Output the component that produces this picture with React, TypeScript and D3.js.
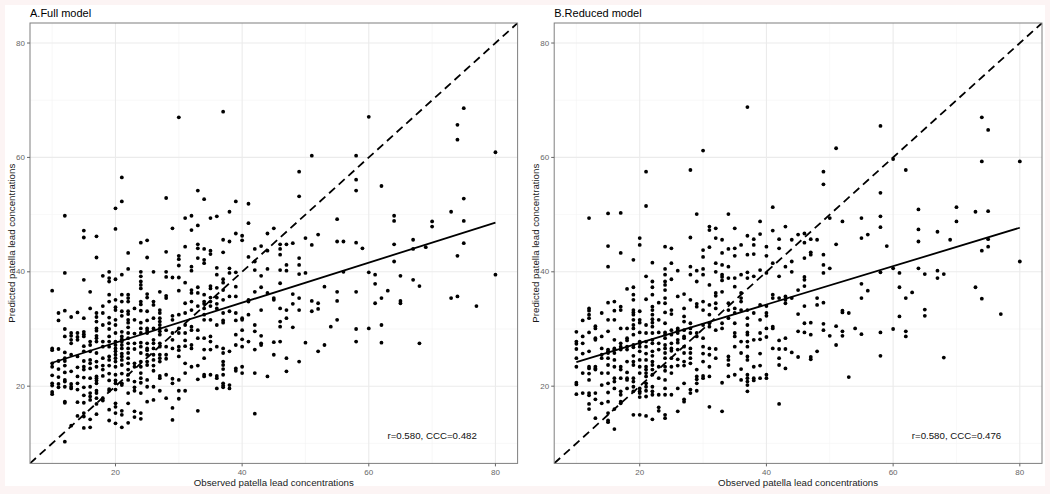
import React from "react";
import * as d3 from "d3";

const fullModelPoints: [number, number[]][] = [
  [10, [36.7, 26.6, 26.3, 24.0, 23.4, 21.9, 20.5, 20.1, 19.0, 18.6]],
  [11, [32.8, 31.5, 26.5, 24.4, 23.0, 21.6, 20.4, 19.8]],
  [12, [49.8, 39.8, 33.2, 30.0, 28.7, 25.9, 24.9, 24.4, 23.6, 22.4, 21.1, 20.8, 19.9, 17.3, 17.1, 10.3]],
  [13, [32.1, 29.3, 28.8, 28.1, 27.5, 25.5, 22.6, 20.4, 19.9, 19.6, 13.1]],
  [14, [32.9, 29.3, 28.6, 28.1, 25.2, 23.3, 21.7, 20.5, 19.4, 17.2, 14.8]],
  [15, [47.2, 46.0, 38.6, 31.9, 29.5, 29.1, 28.7, 27.0, 26.1, 24.4, 23.4, 22.9, 21.5, 19.8, 18.4, 17.1, 15.3, 14.7, 12.7]],
  [16, [36.5, 33.6, 27.8, 27.2, 26.1, 24.6, 24.0, 23.1, 21.4, 19.9, 18.8, 18.2, 17.6, 14.2, 12.8]],
  [17, [46.2, 42.5, 32.8, 32.1, 31.3, 30.1, 29.7, 28.8, 28.4, 27.8, 25.8, 24.3, 23.4, 21.7, 21.4, 21.0, 20.5, 19.2, 18.8, 17.9, 16.9, 15.1]],
  [18, [39.3, 34.0, 32.8, 30.7, 27.8, 26.9, 24.9, 23.6, 22.9, 21.8, 17.9, 17.5]],
  [19, [40.0, 38.9, 38.3, 36.0, 34.8, 32.0, 31.0, 30.0, 28.7, 27.8, 26.9, 25.2, 24.6, 23.6, 22.2, 21.0, 19.5, 19.2, 15.9, 14.0]],
  [20, [51.1, 47.5, 38.7, 35.1, 33.8, 33.3, 31.6, 30.7, 29.3, 27.8, 27.2, 26.6, 26.1, 25.5, 24.9, 24.3, 23.4, 22.0, 21.0, 20.5, 19.4, 17.0, 16.4, 15.3, 13.5]],
  [21, [56.5, 52.3, 39.5, 36.0, 34.8, 33.1, 32.3, 29.5, 28.7, 28.2, 27.8, 27.2, 26.6, 25.7, 25.2, 24.6, 23.7, 22.2, 20.5, 20.2, 15.7, 15.0, 12.8]],
  [22, [43.3, 40.5, 36.0, 35.4, 34.8, 33.1, 32.6, 31.6, 31.1, 30.3, 29.3, 28.4, 27.5, 26.6, 25.8, 24.9, 24.0, 22.9, 22.0, 21.1, 18.8, 17.0, 13.6]],
  [23, [33.6, 31.6, 29.2, 27.5, 26.5, 24.0, 23.4, 20.8, 19.8, 19.2, 15.6, 14.6]],
  [24, [45.1, 40.0, 39.2, 38.3, 37.7, 37.1, 34.8, 34.3, 33.2, 31.1, 30.1, 29.3, 27.6, 26.9, 25.8, 24.3, 23.4, 22.3, 21.4, 20.6, 18.8, 15.3, 14.3]],
  [25, [45.5, 42.5, 36.1, 35.5, 33.1, 31.5, 30.1, 29.7, 29.3, 27.5, 26.6, 26.3, 25.5, 24.3, 23.7, 21.1, 19.9, 17.3]],
  [26, [40.0, 34.8, 34.2, 31.9, 30.1, 28.1, 27.5, 26.6, 25.5, 24.6, 23.6, 22.7, 19.9, 17.6]],
  [27, [36.5, 33.3, 32.8, 31.9, 31.3, 30.7, 30.1, 29.6, 29.0, 27.5, 26.9, 25.5, 24.9, 24.3, 21.8, 21.4, 19.2]],
  [28, [52.9, 43.5, 40.0, 39.1, 35.8, 35.4, 29.8, 26.9, 25.5, 24.8, 22.0, 17.9]],
  [29, [47.6, 39.0, 32.3, 31.6, 29.3, 28.1, 26.6, 21.3, 20.5, 16.2, 14.1]],
  [30, [67.0, 42.8, 42.2, 41.1, 39.0, 36.7, 32.5, 30.1, 29.3, 26.9, 26.3, 25.2, 21.1, 19.2, 17.8]],
  [31, [49.4, 44.4, 38.1, 34.5, 32.8, 30.7, 29.3, 28.0, 27.0, 24.0, 22.3, 19.2]],
  [32, [49.8, 47.3, 40.9, 40.2, 36.8, 36.3, 34.8, 33.3, 30.4, 29.8, 27.2, 26.6, 23.4]],
  [33, [54.2, 48.1, 44.8, 44.1, 42.4, 37.3, 36.3, 34.0, 29.8, 28.4, 23.6, 21.2, 15.7]],
  [34, [52.7, 44.0, 42.1, 41.5, 36.0, 34.8, 34.4, 33.6, 32.5, 31.6, 28.4, 26.4, 24.9, 22.0, 21.7]],
  [35, [49.4, 43.7, 43.1, 37.5, 37.1, 35.5, 34.8, 34.0, 31.6, 28.7, 27.8, 26.4, 22.0]],
  [36, [49.7, 40.7, 39.5, 37.2, 35.5, 34.4, 33.6, 30.7, 26.9, 21.8, 21.4, 19.6]],
  [37, [68.0, 45.6, 43.4, 38.7, 38.1, 36.8, 35.1, 32.8, 31.5, 31.1, 26.6, 25.8, 24.3, 23.7, 23.0, 22.0, 20.5, 20.1, 19.8]],
  [38, [50.5, 45.3, 40.6, 39.8, 35.7, 33.1, 26.1, 20.2, 19.6]],
  [39, [52.3, 46.7, 39.9, 37.4, 35.7, 32.8, 31.5, 29.0, 27.2, 23.1, 22.7]],
  [40, [46.3, 45.5, 31.9, 31.6, 29.8, 28.2, 26.9, 23.4, 22.3]],
  [41, [51.9, 48.5, 42.6, 35.1, 34.8, 32.5, 27.8]],
  [42, [44.0, 41.8, 40.3, 36.5, 30.7, 29.6, 26.4, 22.3, 15.2]],
  [43, [44.5, 39.3, 37.3, 33.3, 28.8, 27.5, 27.2]],
  [44, [46.7, 43.7, 40.5, 36.3, 21.7]],
  [45, [47.6, 35.4, 35.1, 27.7, 25.5]],
  [46, [44.8, 44.0, 43.0, 40.3, 38.0, 33.6, 31.3, 30.4, 27.8]],
  [47, [44.8, 41.2, 40.2, 33.3, 31.9, 24.9, 22.6]],
  [48, [45.0, 36.1, 34.4, 30.3]],
  [49, [57.5, 53.2, 42.4, 41.2, 39.6, 35.4, 33.3, 24.3]],
  [50, [45.9, 39.8, 27.6]],
  [51, [60.3, 44.7, 34.9, 33.1]],
  [52, [46.5, 34.5, 33.5, 26.1]],
  [53, [37.4, 27.2]],
  [54, [30.4]],
  [55, [49.2, 45.3, 36.5, 34.9, 31.6]],
  [56, [45.3, 40.0]],
  [58, [60.3, 56.1, 54.2, 45.1, 36.5, 30.0, 27.8]],
  [59, [44.1]],
  [60, [67.1, 39.9, 30.1]],
  [61, [39.5, 37.9, 34.5]],
  [62, [55.0, 35.4, 30.7, 27.6]],
  [63, [36.7]],
  [64, [49.8, 48.9, 44.8, 41.8]],
  [65, [39.3, 34.9, 34.5]],
  [67, [45.6, 44.0, 38.6]],
  [68, [37.5, 27.5]],
  [69, [44.3]],
  [70, [48.8, 47.9]],
  [73, [50.5, 35.4]],
  [74, [65.7, 63.1, 42.8, 35.7]],
  [75, [68.6, 52.8, 48.9, 45.0]],
  [77, [34.0]],
  [80, [60.9, 39.5]],
];

// Panel B (reduced model)
const reducedModelPoints: [number, number[]][] = [
  [10, [29.5, 27.8, 27.4, 26.5, 24.9, 23.4, 20.6, 20.3, 18.6]],
  [11, [31.5, 28.7, 27.5, 25.7, 22.3, 18.8]],
  [12, [49.4, 33.6, 33.2, 32.5, 31.9, 29.4, 26.1, 23.4, 23.1, 22.2, 21.1, 18.8, 18.4, 16.9, 16.0]],
  [13, [30.5, 30.1, 28.4, 28.1, 23.4, 23.1, 22.9, 18.8, 17.7, 14.4]],
  [14, [32.8, 28.7, 26.6, 25.5, 24.9, 22.3, 20.2, 17.0]],
  [15, [50.2, 44.5, 40.9, 34.6, 31.6, 29.6, 26.4, 26.1, 25.8, 24.9, 23.7, 22.3, 20.5, 18.9, 17.3, 15.3, 14.0, 13.7]],
  [16, [34.8, 33.2, 31.6, 28.1, 26.6, 26.4, 25.8, 24.6, 23.4, 21.4, 20.8, 19.6, 16.0, 12.5]],
  [17, [50.3, 43.3, 33.9, 33.3, 30.1, 27.5, 26.9, 26.4, 23.4, 22.9, 21.4, 19.1, 18.5, 17.3, 17.0]],
  [18, [37.0, 30.1, 28.4, 28.0, 26.9, 26.4, 24.3, 22.4, 21.4, 21.1, 19.6]],
  [19, [42.1, 37.3, 36.0, 35.1, 33.3, 32.9, 32.5, 31.6, 30.7, 30.1, 29.0, 27.2, 26.8, 25.3, 24.3, 23.7, 21.4, 20.8, 19.9, 19.1, 15.0]],
  [20, [45.9, 44.7, 33.1, 31.6, 31.1, 29.4, 27.8, 27.5, 26.9, 26.1, 24.6, 23.4, 22.3, 19.6, 19.1, 18.8, 18.1, 15.0]],
  [21, [57.5, 51.5, 39.2, 35.2, 30.7, 29.3, 27.8, 26.9, 25.7, 24.6, 23.4, 22.9, 22.3, 21.7, 20.5, 19.9, 19.2, 18.2, 14.8]],
  [22, [41.6, 38.3, 37.3, 36.0, 33.9, 33.3, 32.5, 31.7, 31.1, 30.4, 29.3, 28.1, 27.5, 26.1, 25.3, 24.3, 23.7, 22.9, 22.0, 19.9, 19.1, 18.5, 14.2]],
  [23, [34.6, 31.6, 29.4, 27.5, 26.4, 23.4, 21.4, 18.5, 16.3, 15.7]],
  [24, [44.4, 40.5, 39.5, 38.3, 37.7, 36.8, 35.4, 34.5, 32.9, 31.0, 29.4, 29.0, 28.4, 27.2, 26.6, 25.8, 24.9, 23.4, 22.7, 21.1, 19.6, 18.5, 15.0, 14.4]],
  [25, [44.1, 41.5, 38.7, 33.3, 32.6, 29.8, 29.0, 27.5, 26.6, 26.2, 24.9, 23.4, 22.3, 18.5]],
  [26, [40.2, 35.7, 30.1, 29.8, 29.3, 28.1, 27.6, 26.4, 24.7, 23.6, 19.6, 15.6]],
  [27, [36.1, 33.6, 32.2, 31.3, 29.8, 28.7, 28.4, 26.9, 25.8, 24.3, 23.6, 20.5, 17.7, 17.3]],
  [28, [57.8, 46.0, 40.9, 39.5, 35.1, 31.0, 30.1, 29.3, 26.6, 25.8, 24.9, 24.0, 19.4, 18.8]],
  [29, [50.1, 40.2, 38.3, 34.4, 33.9, 29.3, 28.7, 22.9, 21.7, 21.2, 20.5, 19.2]],
  [30, [61.2, 43.8, 42.6, 40.5, 39.5, 34.8, 33.3, 30.7, 28.4, 26.9, 25.7, 24.3, 21.8, 21.4]],
  [31, [47.9, 47.3, 44.3, 37.7, 34.2, 32.5, 31.0, 30.4, 26.6, 25.5, 23.4, 21.7, 16.4]],
  [32, [47.6, 45.9, 41.5, 40.0, 36.3, 35.8, 34.5, 33.6, 29.8, 26.5, 24.9]],
  [33, [45.6, 43.3, 41.2, 39.5, 39.1, 38.5, 36.5, 31.0, 30.1, 20.6, 15.6]],
  [34, [50.1, 44.0, 40.9, 38.9, 34.5, 33.3, 31.9, 25.2, 24.6, 23.7, 21.7]],
  [35, [47.6, 44.1, 42.8, 38.9, 37.4, 33.6, 32.8, 31.0, 29.3, 28.7, 26.9, 22.0]],
  [36, [44.7, 39.5, 36.3, 35.4, 34.8, 33.3, 27.8, 25.8, 23.0, 21.1]],
  [37, [68.8, 46.3, 43.0, 39.9, 38.9, 33.3, 31.9, 30.7, 29.4, 29.0, 27.8, 26.9, 25.2, 24.6, 22.0, 21.4, 20.8, 20.2, 19.1]],
  [38, [45.7, 44.7, 43.1, 39.2, 32.8, 28.1, 23.4, 21.4, 21.0]],
  [39, [48.8, 46.6, 40.3, 34.2, 31.6, 29.3, 28.2, 25.7, 23.6, 21.4]],
  [40, [44.4, 42.8, 39.8, 34.0, 32.8, 32.3, 30.1, 28.6, 22.0, 21.4]],
  [41, [51.3, 47.2, 41.5, 36.0, 35.4, 30.4, 30.1, 26.6]],
  [42, [45.7, 44.1, 39.2, 35.4, 28.0, 26.5, 24.9, 23.7, 16.9]],
  [43, [47.9, 40.9, 35.7, 35.1, 34.5, 28.4, 26.5, 23.1]],
  [44, [45.6, 41.8, 40.0, 35.4, 25.9]],
  [45, [46.5, 36.8, 32.6, 29.6, 25.1]],
  [46, [46.7, 45.1, 42.4, 39.1, 38.6, 37.5, 34.0, 31.0, 29.4]],
  [47, [45.7, 43.4, 43.0, 31.1, 29.0, 25.1, 24.7]],
  [48, [45.6, 35.4, 34.2, 26.1]],
  [49, [57.5, 55.3, 43.0, 41.2, 39.8, 34.6, 30.9, 29.8]],
  [50, [49.4, 40.6, 28.8]],
  [51, [61.6, 44.8, 30.5, 27.2]],
  [52, [48.8, 33.2, 32.9, 29.6, 28.8]],
  [53, [32.8, 21.6]],
  [54, [30.1]],
  [55, [49.4, 45.9, 37.9, 35.4, 29.1]],
  [56, [46.5, 36.7]],
  [58, [65.5, 53.8, 49.7, 47.8, 39.9, 29.4, 25.3]],
  [59, [44.5]],
  [60, [59.7, 40.6, 30.0]],
  [61, [39.8, 37.3, 32.2]],
  [62, [57.8, 35.4, 29.6, 28.7]],
  [63, [36.4]],
  [64, [50.9, 47.4, 45.3, 40.6]],
  [65, [39.6, 33.4, 32.3]],
  [67, [47.0, 40.2, 38.9]],
  [68, [39.6, 25.0]],
  [69, [45.6]],
  [70, [51.3, 48.8]],
  [73, [50.5, 37.3]],
  [74, [67.0, 59.3, 43.7, 35.3]],
  [75, [64.8, 50.6, 45.7, 44.4]],
  [77, [32.6]],
  [80, [59.3, 41.8]],
];

// Fitted regression lines (endpoints at observed 10 and 80)
const fitFull: [number, number][] = [[10, 24.1], [80, 48.6]];
const fitReduced: [number, number][] = [[10, 24.2], [80, 47.7]];

const panelTitles = ["A.Full model", "B.Reduced model"];
const statLabels = ["r=0.580, CCC=0.482", "r=0.580, CCC=0.476"];
const statPosition: [number, number] = [70, 11.3];
const majorTicks = [20, 40, 60, 80];
const minorTicks = [10, 30, 50, 70];
const axisDomain: [number, number] = [6.5, 83.5];
const xTitle = "Observed patella lead concentrations";
const yTitle = "Predicted patella lead concentrations";

const FONT = "'Liberation Sans', Arial, Helvetica, sans-serif";

type PanelProps = {
  left: number;
  right: number;
  title: string;
  label: string;
  cols: [number, number[]][];
  fit: [number, number][];
};

function Panel({ left, right, title, label, cols, fit }: PanelProps) {
  const top = 23;
  const bottom = 463.4;
  const x = d3.scaleLinear().domain(axisDomain).range([left, right]);
  const y = d3.scaleLinear().domain(axisDomain).range([bottom, top]);
  const pts = cols.flatMap(([ox, ys]) => ys.map((py) => [ox, py] as [number, number]));
  const line = d3.line<[number, number]>().x((d) => x(d[0])).y((d) => y(d[1]));
  const idLine: [number, number][] = [[axisDomain[0], axisDomain[0]], [axisDomain[1], axisDomain[1]]];
  const clipId = `clip-${Math.round(left)}`;
  return (
    <g>
      <defs>
        <clipPath id={clipId}>
          <rect x={left} y={top} width={right - left} height={bottom - top} />
        </clipPath>
      </defs>
      <rect x={left} y={top} width={right - left} height={bottom - top} fill="#ffffff" />
      {minorTicks.map((t) => (
        <g key={"mn" + t}>
          <line x1={x(t)} x2={x(t)} y1={top} y2={bottom} stroke="#f3f3f3" strokeWidth={0.6} />
          <line x1={left} x2={right} y1={y(t)} y2={y(t)} stroke="#f3f3f3" strokeWidth={0.6} />
        </g>
      ))}
      {majorTicks.map((t) => (
        <g key={"mj" + t}>
          <line x1={x(t)} x2={x(t)} y1={top} y2={bottom} stroke="#ebebeb" strokeWidth={1.1} />
          <line x1={left} x2={right} y1={y(t)} y2={y(t)} stroke="#ebebeb" strokeWidth={1.1} />
        </g>
      ))}
      <g clipPath={`url(#${clipId})`}>
        <path d={line(idLine) || ""} stroke="#000" strokeWidth={1.8} strokeDasharray="8 5" fill="none" />
        {pts.map((p, i) => (
          <circle key={i} cx={x(p[0])} cy={y(p[1])} r={1.9} fill="#000" />
        ))}
        <path d={line(fit) || ""} stroke="#000" strokeWidth={1.8} fill="none" />
      </g>
      <text
        x={x(statPosition[0])}
        y={y(statPosition[1])}
        textAnchor="middle"
        dominantBaseline="central"
        fontFamily={FONT}
        fontSize={9.7}
        fill="#111"
      >
        {label}
      </text>
      <rect x={left} y={top} width={right - left} height={bottom - top} fill="none" stroke="#7f7f7f" strokeWidth={1} />
      {majorTicks.map((t) => (
        <g key={"tk" + t}>
          <line x1={x(t)} x2={x(t)} y1={bottom} y2={bottom + 3} stroke="#666" strokeWidth={1} />
          <text x={x(t)} y={bottom + 11.8} textAnchor="middle" fontFamily={FONT} fontSize={8} fill="#666">
            {t}
          </text>
          <line x1={left - 3} x2={left} y1={y(t)} y2={y(t)} stroke="#666" strokeWidth={1} />
          <text x={left - 5} y={y(t)} textAnchor="end" dominantBaseline="central" fontFamily={FONT} fontSize={8} fill="#666">
            {t}
          </text>
        </g>
      ))}
      <text x={(left + right) / 2} y={486.2} textAnchor="middle" fontFamily={FONT} fontSize={9.7} fill="#1a1a1a">
        {xTitle}
      </text>
      <text
        transform={`translate(${left - 15.5},${(top + bottom) / 2}) rotate(-90)`}
        textAnchor="middle"
        fontFamily={FONT}
        fontSize={9.7}
        fill="#1a1a1a"
      >
        {yTitle}
      </text>
      <text x={left} y={16.5} fontFamily={FONT} fontSize={11} fill="#000">
        {title}
      </text>
    </g>
  );
}

export default function App() {
  return (
    <svg
      width={1050}
      height={494}
      style={{ position: "absolute", left: 0, top: 0, display: "block" }}
      xmlns="http://www.w3.org/2000/svg"
    >
      <rect x={0} y={0} width={1050} height={494} fill="#fcf4f4" />
      <rect x={5} y={5} width={1040} height={481} fill="#ffffff" />
      <Panel left={30} right={517.6} title={panelTitles[0]} label={statLabels[0]} cols={fullModelPoints} fit={fitFull} />
      <Panel left={554.2} right={1042} title={panelTitles[1]} label={statLabels[1]} cols={reducedModelPoints} fit={fitReduced} />
    </svg>
  );
}
